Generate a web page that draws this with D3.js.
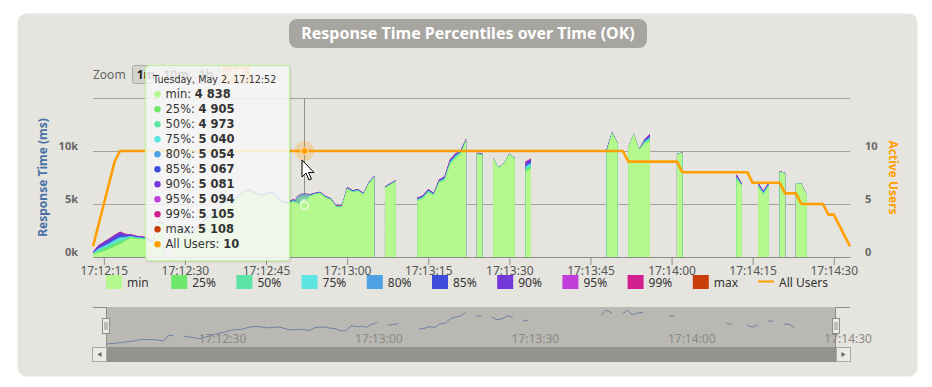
<!DOCTYPE html>
<html>
<head>
<meta charset="utf-8">
<title>Response Time Percentiles over Time (OK)</title>
<script src="https://cdnjs.cloudflare.com/ajax/libs/d3/7.8.5/d3.min.js"></script>
<style>
    body { margin: 0; background: #fff; }
    svg { display: block; font-family: "Noto Sans", "DejaVu Sans", sans-serif; }
</style>
</head>
<body>
<svg id="chart" width="932" height="387"></svg>
<script>

    // ---- data ----
    var startTime = new Date(2017, 4, 2, 17, 12, 13);

    // seconds after startTime that have response time values (gaps = no data)
    var seconds = [0,1,2,3,4,5,6,7,8,9,10,11,12,13,15,16,17,18,19,20,21,22,23,24,25,26,27,28,29,30,31,32,33,34,35,36,37,38,39,40,41,42,43,44,45,46,47,48,49,50,51,52,
        54,55,56, 60,61,62,63,64,65,66,67,68,69, 71,72, 74,75,76,77,78, 80,81, 95,96,97, 99,100,101,102,103, 108,109, 119,120, 123,124,125, 127,128, 130,131,132];

    var pMin = [250,400,550,750,1000,1200,1500,1800,1700,1700,1600,1200,
        3200,3000,2900,2600,2300,2000,2600,3000,3500,4000,4400,4900,5100,5200,5700,6100,6200,5900,5700,5800,6000,5600,5100,5000,5200,5000,
        4838,
        5700,5900,6000,5600,5400,4700,4700,6400,6100,6200,5900,6900,7500,
        6500,6800,7100,
        5300,5500,6100,5800,7000,7200,8700,9300,9700,11000,
        9700,9600, 9300,8400,8800,9700,9300, 8000,8300, 9900,11700,10700,
        10300,11600,10100,10700,10900, 9700,9800, 7300,6700, 6600,5900,6700, 8000,7900, 6900,6900,5800];

    var p25 = [300,540,730,950,1220,1440,1640,1870,1760,1750,1650,1260,
        3240,3040,2940,2640,2340,2040,2640,3040,3540,4040,4440,4940,5140,5240,5740,6140,6240,5940,5740,5840,6040,5640,5140,5040,5250,5050,
        4905,
        5740,5930,6030,5630,5430,4730,4730,6440,6140,6240,5930,6930,7530,
        6530,6830,7130,
        5360,5560,6160,5850,7060,7280,8800,9390,9780,11030,
        9730,9630, 9310,8410,8810,9710,9310, 8200,8500, 9960,11720,10710,
        10310,11610,10110,10780,11040, 9710,9810, 7400,6750, 6680,5970,6770, 8020,7910, 6910,6910,5810];

    var p50 = [338,645,865,1100,1385,1620,1745,1923,1805,1788,1688,1305,
        3270,3070,2970,2670,2370,2070,2670,3070,3570,4070,4470,4970,5170,5270,5770,6170,6270,5970,5770,5870,6070,5670,5170,5070,5288,5088,
        4973,
        5770,5953,6053,5653,5453,4753,4753,6470,6170,6270,5953,6953,7553,
        6553,6853,7153,
        5405,5605,6205,5888,7105,7340,8875,9458,9840,11053,
        9753,9653, 9318,8418,8818,9718,9318, 8350,8650, 10005,11735,10718,
        10318,11618,10118,10840,11145, 9718,9818, 7475,6788, 6740,6023,6823, 8035,7918, 6918,6918,5818];

    var p75 = [375,750,1000,1250,1550,1800,1850,1975,1850,1825,1725,1350,
        3300,3100,3000,2700,2400,2100,2700,3100,3600,4100,4500,5000,5200,5300,5800,6200,6300,6000,5800,5900,6100,5700,5200,5100,5325,5125,
        5040,
        5800,5975,6075,5675,5475,4775,4775,6500,6200,6300,5975,6975,7575,
        6575,6875,7175,
        5450,5650,6250,5925,7150,7400,8950,9525,9900,11075,
        9775,9675, 9325,8425,8825,9725,9325, 8500,8800, 10050,11750,10725,
        10325,11625,10125,10900,11250, 9725,9825, 7550,6825, 6800,6075,6875, 8050,7925, 6925,6925,5825];

    var p80 = [400,820,1090,1350,1660,1920,1920,2010,1880,1850,1750,1380,
        3320,3120,3020,2720,2420,2120,2720,3120,3620,4120,4520,5020,5220,5320,5820,6220,6320,6020,5820,5920,6120,5720,5220,5120,5350,5150,
        5054,
        5820,5990,6090,5690,5490,4790,4790,6520,6220,6320,5990,6990,7590,
        6590,6890,7190,
        5480,5680,6280,5950,7180,7440,9000,9570,9940,11090,
        9790,9690, 9330,8430,8830,9730,9330, 8600,8900, 10080,11760,10730,
        10330,11630,10130,10940,11320, 9730,9830, 7600,6850, 6840,6110,6910, 8060,7930, 6930,6930,5830];

    var p85 = [430,904,1198,1470,1792,2064,2004,2052,1916,1880,1780,1416,
        3344,3144,3044,2744,2444,2144,2744,3144,3644,4144,4544,5044,5244,5344,5844,6244,6344,6044,5844,5944,6144,5744,5244,5144,5380,5180,
        5067,
        5844,6008,6108,5708,5508,4808,4808,6544,6244,6344,6008,7008,7608,
        6608,6908,7208,
        5516,5716,6316,5980,7216,7488,9060,9624,9988,11108,
        9808,9708, 9336,8436,8836,9736,9336, 8720,9020, 10116,11772,10736,
        10336,11636,10136,10988,11404, 9736,9836, 7660,6880, 6888,6152,6952, 8072,7936, 6936,6936,5836];

    var p90 = [485,1058,1396,1690,2034,2328,2158,2129,1982,1935,1835,1482,
        3388,3188,3088,2788,2488,2188,2788,3188,3688,4188,4588,5088,5288,5388,5888,6288,6388,6088,5888,5988,6188,5788,5288,5188,5435,5235,
        5081,
        5888,6041,6141,5741,5541,4841,4841,6588,6288,6388,6041,7041,7641,
        6641,6941,7241,
        5582,5782,6382,6035,7282,7576,9170,9723,10076,11141,
        9841,9741, 9347,8447,8847,9747,9347, 8940,9240, 10182,11794,10747,
        10347,11647,10147,11076,11558, 9747,9847, 7770,6935, 6976,6229,7029, 8094,7947, 6947,6947,5847];

    var p95 = [493,1079,1423,1720,2067,2364,2179,2140,1991,1943,1843,1491,
        3394,3194,3094,2794,2494,2194,2794,3194,3694,4194,4594,5094,5294,5394,5894,6294,6394,6094,5894,5994,6194,5794,5294,5194,5443,5243,
        5094,
        5894,6046,6146,5746,5546,4846,4846,6594,6294,6394,6046,7046,7646,
        6646,6946,7246,
        5591,5791,6391,6043,7291,7588,9185,9737,10088,11146,
        9846,9746, 9349,8449,8849,9749,9349, 8970,9270, 10191,11797,10749,
        10349,11649,10149,11088,11579, 9749,9849, 7785,6943, 6988,6240,7040, 8097,7949, 6949,6949,5849];

    var p99 = [498,1093,1441,1740,2089,2388,2193,2147,1997,1948,1848,1497,
        3398,3198,3098,2798,2498,2198,2798,3198,3698,4198,4598,5098,5298,5398,5898,6298,6398,6098,5898,5998,6198,5798,5298,5198,5448,5248,
        5105,
        5898,6049,6149,5749,5549,4849,4849,6598,6298,6398,6049,7049,7649,
        6649,6949,7249,
        5597,5797,6397,6048,7297,7596,9195,9746,10096,11149,
        9849,9749, 9350,8450,8850,9750,9350, 8990,9290, 10197,11799,10750,
        10350,11650,10150,11096,11593, 9750,9850, 7795,6948, 6996,6247,7047, 8099,7950, 6950,6950,5850];

    var pMax = [500,1100,1450,1750,2100,2400,2200,2150,2000,1950,1850,1500,
        3400,3200,3100,2800,2500,2200,2800,3200,3700,4200,4600,5100,5300,5400,5900,6300,6400,6100,5900,6000,6200,5800,5300,5200,5450,5250,
        5108,
        5900,6050,6150,5750,5550,4850,4850,6600,6300,6400,6050,7050,7650,
        6650,6950,7250,
        5600,5800,6400,6050,7300,7600,9200,9750,10100,11150,
        9850,9750, 9350,8450,8850,9750,9350, 9000,9300, 10200,11800,10750,
        10350,11650,10150,11100,11600, 9750,9850, 7800,6950, 7000,6250,7050, 8100,7950, 6950,6950,5850];

    // active users, one value per second from startTime
    var users = [1,3,5,7,9,
        10,10,10,10,10,10,10,10,10,10, 10,10,10,10,10,10,10,10,10,10,
        10,10,10,10,10,10,10,10,10,10, 10,10,10,10,10,10,10,10,10,10,
        10,10,10,10,10,10,10,10,10,10, 10,10,10,10,10,10,10,10,10,10,
        10,10,10,10,10,10,10,10,10,10, 10,10,10,10,10,10,10,10,10,10,
        10,10,10,10,10,10,10,10,10,10, 10,10,10,10,
        9,9,9,9,9,9,9,9,9,9,
        8,8,8,8,8,8,8,8,8,8,8,8,8,
        7,7,7,7,7,7,
        6,6,6,
        5,5,5,5,5,
        4,4,3,2,1];

    var seriesNames = ['min', '25%', '50%', '75%', '80%', '85%', '90%', '95%', '99%', 'max'];
    var seriesValues = [pMin, p25, p50, p75, p80, p85, p90, p95, p99, pMax];
    var seriesColors = ['#b4f88e', '#6de86b', '#5ce3a6', '#5be6e2', '#4da1e5', '#3d4dd9',
        '#7437d9', '#c13dd9', '#d11f8e', '#c93d0b'];
    var usersColor = '#ffa000';

    var hoverSecond = 39;
    var rangeButtons = ['1m', '10m', '1h', 'All'];

    //=======================================

    var svg = d3.select('#chart');

    var endTime = d3.timeSecond.offset(startTime, users.length - 1);

    var x = d3.scaleTime().domain([startTime, endTime]).range([93, 850]);
    var y = d3.scaleLinear().domain([0, 15000]).range([257, 98]);
    var yUsers = d3.scaleLinear().domain([0, 15]).range([257, 98]);

    var numFormat = d3.formatLocale({decimal: '.', thousands: ' ', grouping: [3], currency: ['', '']}).format(',d');

    var indexOf = new Map(seconds.map(function (s, i) { return [s, i]; }));

    function pointsFor(values) {
        return users.map(function (u, s) {
            var i = indexOf.get(s);
            return {t: d3.timeSecond.offset(startTime, s), v: i === undefined ? null : values[i]};
        });
    }

    // background panel
    svg.append('rect')
        .attr('x', 17.5).attr('y', 13.5).attr('width', 900).attr('height', 363)
        .attr('rx', 9).attr('fill', '#e5e4df');

    // title
    svg.append('rect')
        .attr('x', 289).attr('y', 19).attr('width', 358).attr('height', 29)
        .attr('rx', 8).attr('fill', '#a7a59f');
    svg.append('text')
        .attr('x', 468).attr('y', 39).attr('text-anchor', 'middle')
        .attr('font-size', '16px').attr('font-weight', 'bold').attr('fill', '#fff')
        .text('Response Time Percentiles over Time (OK)');

    // range selector
    svg.append('text')
        .attr('x', 93).attr('y', 79).attr('font-size', '12px').attr('fill', '#666')
        .text('Zoom');
    var btn = svg.selectAll('g.btn').data(rangeButtons).enter().append('g')
        .attr('transform', function (d, i) { return 'translate(' + (132 + 30 * i) + ',65)'; });
    btn.append('rect')
        .attr('x', 0.5).attr('y', 0.5).attr('width', 27).attr('height', 18).attr('rx', 2)
        .attr('fill', function (d) { return d === 'All' ? '#f7a04a' : '#d4d3cf'; })
        .attr('stroke', function (d) { return d === 'All' ? '#f7a04a' : '#a9a8a4'; });
    btn.append('text')
        .attr('x', 14).attr('y', 14).attr('text-anchor', 'middle')
        .attr('font-size', '12px').attr('font-weight', 'bold')
        .attr('fill', function (d) { return d === 'All' ? '#fff' : '#222'; })
        .text(function (d) { return d; });

    // grid
    svg.selectAll('line.grid').data([5000, 10000, 15000]).enter().append('line')
        .attr('x1', 93).attr('x2', 850)
        .attr('y1', function (d) { return Math.round(y(d)) + 0.5; })
        .attr('y2', function (d) { return Math.round(y(d)) + 0.5; })
        .attr('stroke', '#a2a19d').attr('stroke-width', 1);

    var hoverX = Math.round(x(d3.timeSecond.offset(startTime, hoverSecond))) + 0.5;

    // crosshair
    svg.append('line')
        .attr('x1', hoverX).attr('x2', hoverX).attr('y1', 98).attr('y2', 257)
        .attr('stroke', '#8f8f8f').attr('stroke-width', 1);

    // percentile areas, max at the back, min in front
    var area = d3.area()
        .defined(function (d) { return d.v != null; })
        .x(function (d) { return x(d.t); })
        .y0(y(0))
        .y1(function (d) { return y(d.v); });

    var hoverIndex = indexOf.get(hoverSecond);

    for (var k = seriesValues.length - 1; k >= 0; k--) {
        var g = svg.append('g');
        g.append('path')
            .datum(pointsFor(seriesValues[k]))
            .attr('d', area)
            .attr('fill', seriesColors[k]);
        var hy = y(seriesValues[k][hoverIndex]);
        g.append('circle').attr('cx', hoverX).attr('cy', hy).attr('r', 10)
            .attr('fill', seriesColors[k]).attr('fill-opacity', 0.25);
        g.append('circle').attr('cx', hoverX).attr('cy', hy).attr('r', 4)
            .attr('fill', seriesColors[k]).attr('stroke', '#fff').attr('stroke-width', 1);
    }

    // active users line
    var usersLine = d3.line()
        .x(function (d, i) { return x(d3.timeSecond.offset(startTime, i)); })
        .y(function (d) { return yUsers(d); });

    svg.append('path')
        .datum(users)
        .attr('d', usersLine)
        .attr('fill', 'none').attr('stroke', usersColor).attr('stroke-width', 2.6)
        .attr('stroke-linejoin', 'round');

    var hu = yUsers(users[hoverSecond]);
    svg.append('circle').attr('cx', hoverX).attr('cy', hu).attr('r', 10)
        .attr('fill', usersColor).attr('fill-opacity', 0.25);
    svg.append('circle').attr('cx', hoverX).attr('cy', hu).attr('r', 3.5)
        .attr('fill', usersColor).attr('stroke', '#fde0b0').attr('stroke-width', 1);

    // x axis
    var xAxis = d3.axisBottom(x)
        .ticks(d3.timeSecond.every(15))
        .tickFormat(d3.timeFormat('%H:%M:%S'))
        .tickSize(8)
        .tickSizeOuter(0);

    var gx = svg.append('g').attr('transform', 'translate(0,257)').call(xAxis);
    gx.select('.domain').attr('stroke', '#8e8d89');
    gx.selectAll('.tick line').attr('stroke', '#8e8d89');
    gx.selectAll('.tick text')
        .attr('y', 9).attr('dy', '0.71em')
        .attr('font-family', '"Noto Sans", sans-serif').attr('font-size', '12px').attr('fill', '#555');

    // y axes labels
    svg.selectAll('text.yl').data([0, 5000, 10000]).enter().append('text')
        .attr('x', 78).attr('y', function (d) { return y(d) - 1.5; })
        .attr('text-anchor', 'end').attr('font-size', '11px').attr('font-weight', 'bold').attr('fill', '#666')
        .text(function (d) { return (d / 1000) + 'k'; });

    svg.selectAll('text.yr').data([0, 5, 10]).enter().append('text')
        .attr('x', 865).attr('y', function (d) { return yUsers(d) - 1.5; })
        .attr('font-size', '11px').attr('font-weight', 'bold').attr('fill', '#666')
        .text(function (d) { return d; });

    svg.append('text')
        .attr('transform', 'translate(47,' + ((98 + 257) / 2) + ') rotate(-90)')
        .attr('text-anchor', 'middle').attr('font-size', '12px').attr('font-weight', 'bold')
        .attr('fill', '#4a71a6')
        .text('Response Time (ms)');

    svg.append('text')
        .attr('transform', 'translate(889,' + ((98 + 257) / 2) + ') rotate(90)')
        .attr('text-anchor', 'middle').attr('font-size', '12px').attr('font-weight', 'bold')
        .attr('fill', usersColor)
        .text('Active Users');

    // legend
    var legendItems = seriesNames.concat(['All Users']);
    var lg = svg.selectAll('g.legend').data(legendItems).enter().append('g')
        .attr('transform', function (d, i) { return 'translate(' + (106 + 65.2 * i) + ',275)'; });
    lg.each(function (d, i) {
        var item = d3.select(this);
        if (i < seriesNames.length) {
            item.append('rect').attr('width', 16).attr('height', 14).attr('fill', seriesColors[i]);
        } else {
            item.append('line').attr('x1', 0).attr('x2', 16).attr('y1', 6.5).attr('y2', 6.5)
                .attr('stroke', usersColor).attr('stroke-width', 2);
        }
        item.append('text').attr('x', 21).attr('y', 12)
            .attr('font-size', '12px').attr('fill', '#333').text(d);
    });

    // navigator
    var nx = d3.scaleTime().domain([startTime, endTime]).range([106, 836]);
    var ny = d3.scaleLinear().domain(d3.extent(pMin)).range([344, 310]);

    svg.append('rect').attr('x', 106).attr('y', 307).attr('width', 730).attr('height', 40)
        .attr('fill', '#b9b8b3');

    var navLine = d3.line()
        .defined(function (d) { return d.v != null; })
        .x(function (d) { return nx(d.t); })
        .y(function (d) { return ny(d.v); });

    svg.append('path')
        .datum(pointsFor(pMin))
        .attr('d', navLine)
        .attr('fill', 'none').attr('stroke', '#6f81a3').attr('stroke-width', 1);

    svg.selectAll('text.nav').data(nx.ticks(d3.timeSecond.every(30))).enter().append('text')
        .attr('x', function (d) { return nx(d) + 4; }).attr('y', 343)
        .attr('font-size', '12px').attr('fill', '#8a8984')
        .text(d3.timeFormat('%H:%M:%S'));

    svg.append('path')
        .attr('d', 'M93,307.5H106.5V347M835.5,347V307.5H850')
        .attr('fill', 'none').attr('stroke', '#8e8d89');

    [106, 836].forEach(function (hx) {
        svg.append('rect').attr('x', hx - 3.5).attr('y', 318.5).attr('width', 7).attr('height', 15)
            .attr('fill', '#ebeae6').attr('stroke', '#8e8d89');
        svg.append('path')
            .attr('d', 'M' + (hx - 1) + ',322V330M' + (hx + 1) + ',322V330')
            .attr('stroke', '#8e8d89').attr('stroke-width', 1);
    });

    // scrollbar
    svg.append('rect').attr('x', 106).attr('y', 347).attr('width', 730).attr('height', 15)
        .attr('fill', '#93928d');
    [[92.5, 'M101.5,352L97.5,354.5L101.5,357Z'], [836.5, 'M841.5,352L845.5,354.5L841.5,357Z']].forEach(function (b) {
        svg.append('rect').attr('x', b[0]).attr('y', 347.5).attr('width', 14).attr('height', 14)
            .attr('fill', '#ebeae6').attr('stroke', '#a9a8a4');
        svg.append('path').attr('d', b[1]).attr('fill', '#666');
    });

    // tooltip
    var tip = svg.append('g').attr('font-family', '"DejaVu Sans", sans-serif');
    tip.append('rect').attr('x', 146.5).attr('y', 66.5).attr('width', 144).attr('height', 195).attr('rx', 3)
        .attr('fill', 'none').attr('stroke', '#000').attr('stroke-opacity', 0.06).attr('stroke-width', 3);
    tip.append('rect').attr('x', 145.5).attr('y', 65.5).attr('width', 144).attr('height', 195).attr('rx', 3)
        .attr('fill', 'rgba(247,247,247,0.86)').attr('stroke', seriesColors[0]);
    tip.append('text').attr('x', 153).attr('y', 83)
        .attr('font-size', '9.6px').attr('fill', '#333')
        .text(d3.timeFormat('%A, %B %-d, %H:%M:%S')(d3.timeSecond.offset(startTime, hoverSecond)));

    var tipRows = seriesNames.map(function (n, i) {
        return {name: n, color: seriesColors[i], value: seriesValues[i][hoverIndex]};
    });
    tipRows.push({name: 'All Users', color: usersColor, value: users[hoverSecond]});

    var row = tip.selectAll('g.row').data(tipRows).enter().append('g')
        .attr('transform', function (d, i) { return 'translate(0,' + (98 + 15 * i) + ')'; });
    row.append('circle').attr('cx', 157.5).attr('cy', -3.8).attr('r', 3.2)
        .attr('fill', function (d) { return d.color; });
    var rt = row.append('text').attr('x', 165.5).attr('y', 0)
        .attr('font-size', '11.5px').attr('fill', '#333');
    rt.append('tspan').text(function (d) { return d.name + ': '; });
    rt.append('tspan').attr('font-weight', 'bold').text(function (d) { return numFormat(d.value); });

    // mouse pointer
    svg.append('path')
        .attr('transform', 'translate(' + (hoverX - 2.5) + ',' + (hu + 9) + ')')
        .attr('d', 'M0,0V17L4,13L7,20L9.5,19L6.5,12.5H12Z')
        .attr('fill', '#fff').attr('stroke', '#000').attr('stroke-width', 1);

</script>
</body>
</html>
